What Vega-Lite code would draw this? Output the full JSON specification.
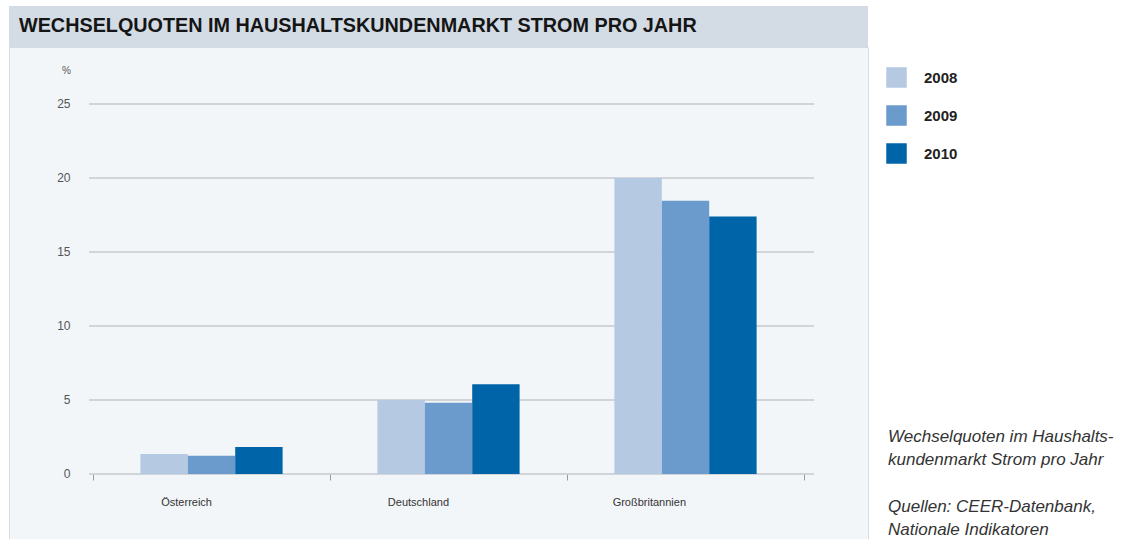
{
  "$schema": "https://vega.github.io/schema/vega-lite/v6.json",
  "padding": {"left": 8, "top": 6, "right": 0, "bottom": 0},
  "autosize": {"type": "pad"},
  "background": "white",
  "spacing": 0,
  "bounds": "flush",
  "config": {"font": "Liberation Sans"},
  "vconcat": [
    {
      "width": 859,
      "height": 41,
      "view": {"fill": "#d3dbe4", "stroke": null},
      "title": {
        "text": "WECHSELQUOTEN IM HAUSHALTSKUNDENMARKT STROM PRO JAHR",
        "orient": "top",
        "anchor": "start",
        "frame": "group",
        "dx": 10,
        "offset": -46,
        "baseline": "alphabetic",
        "fontSize": 19.8,
        "fontWeight": "bold",
        "font": "Liberation Sans",
        "color": "#151515"
      },
      "data": {"values": [{}]},
      "mark": {"type": "rect", "color": "#d3dbe4"},
      "encoding": {}
    },
    {
      "width": 859,
      "height": 492,
      "view": {"fill": "#f3f6f9", "stroke": "#d6dce3"},
      "title": {
        "text": ["Wechselquoten im Haushalts-", "kundenmarkt Strom pro Jahr"],
        "subtitle": ["Quellen: CEER-Datenbank,", "Nationale Indikatoren"],
        "orient": "top",
        "anchor": "start",
        "frame": "group",
        "dx": 879,
        "offset": -505,
        "baseline": "alphabetic",
        "fontSize": 17,
        "fontStyle": "italic",
        "fontWeight": "normal",
        "lineHeight": 23,
        "color": "#333333",
        "font": "Liberation Sans",
        "subtitleFontSize": 17,
        "subtitleFontStyle": "italic",
        "subtitleFontWeight": "normal",
        "subtitleLineHeight": 23,
        "subtitleColor": "#333333",
        "subtitleFont": "Liberation Sans",
        "subtitlePadding": 30
      },
      "layer": [
        {
          "data": {"values": [{"value": 0}, {"value": 5}, {"value": 10}, {"value": 15}, {"value": 20}, {"value": 25}]},
          "mark": {"type": "rule", "color": "#c6cacf", "strokeWidth": 1.4},
          "encoding": {
            "y": {"field": "value", "type": "quantitative", "title": "%", "scale": {"domain": [-4.392, 28.851], "nice": false, "zero": false}},
            "x": {"datum": "Österreich", "type": "nominal", "bandPosition": -0.0169},
            "x2": {"datum": "Großbritannien", "bandPosition": 1.042}
          }
        },
        {
          "data": {"values": [
            {"country": "Österreich", "year": "2008", "value": 1.35},
            {"country": "Österreich", "year": "2009", "value": 1.24},
            {"country": "Österreich", "year": "2010", "value": 1.82},
            {"country": "Deutschland", "year": "2008", "value": 5.0},
            {"country": "Deutschland", "year": "2009", "value": 4.82},
            {"country": "Deutschland", "year": "2010", "value": 6.06},
            {"country": "Großbritannien", "year": "2008", "value": 20.0},
            {"country": "Großbritannien", "year": "2009", "value": 18.47},
            {"country": "Großbritannien", "year": "2010", "value": 17.39}
          ]},
          "mark": {"type": "bar"},
          "encoding": {
            "x": {
              "field": "country",
              "type": "nominal",
              "scale": {"domain": ["Österreich", "Deutschland", "Großbritannien"], "paddingInner": 0, "paddingOuter": 0.3122, "align": 0.5676},
              "axis": {
                "title": null,
                "orient": "bottom",
                "offset": -65,
                "domain": false,
                "grid": false,
                "tickBand": "extent",
                "tickSize": 6,
                "tickColor": "#9a9a9a",
                "labelPadding": 22,
                "labelFontSize": 11,
                "labelColor": "#333333",
                "labelAngle": 0
              }
            },
            "xOffset": {"field": "year", "type": "nominal", "scale": {"paddingInner": 0, "paddingOuter": 1.5}},
            "y": {
              "field": "value",
              "type": "quantitative",
              "title": "%",
              "scale": {"domain": [-4.392, 28.851], "nice": false, "zero": false},
              "axis": {
                "values": [0, 5, 10, 15, 20, 25],
                "grid": false,
                "domain": false,
                "ticks": false,
                "offset": -61,
                "labelPadding": 0,
                "labelFontSize": 12,
                "labelColor": "#555555",
                "title": "%",
                "titleAngle": 0,
                "titleX": -4,
                "titleY": 23,
                "titleAlign": "center",
                "titleBaseline": "middle",
                "titleFontSize": 10,
                "titleFontWeight": "normal",
                "titleColor": "#555555"
              }
            },
            "y2": {"datum": 0},
            "color": {
              "field": "year",
              "type": "nominal",
              "scale": {"domain": ["2008", "2009", "2010"], "range": ["#b5c9e2", "#6b9bcc", "#0064a8"]},
              "legend": {
                "title": null,
                "orient": "none",
                "legendX": 877,
                "legendY": 61,
                "symbolType": "square",
                "symbolSize": 420,
                "symbolStrokeWidth": 0,
                "symbolOpacity": 1,
                "labelFontSize": 15,
                "labelFontWeight": "bold",
                "labelColor": "#222222",
                "labelOffset": 17,
                "rowPadding": 17,
                "padding": 0
              }
            }
          }
        }
      ]
    }
  ]
}
